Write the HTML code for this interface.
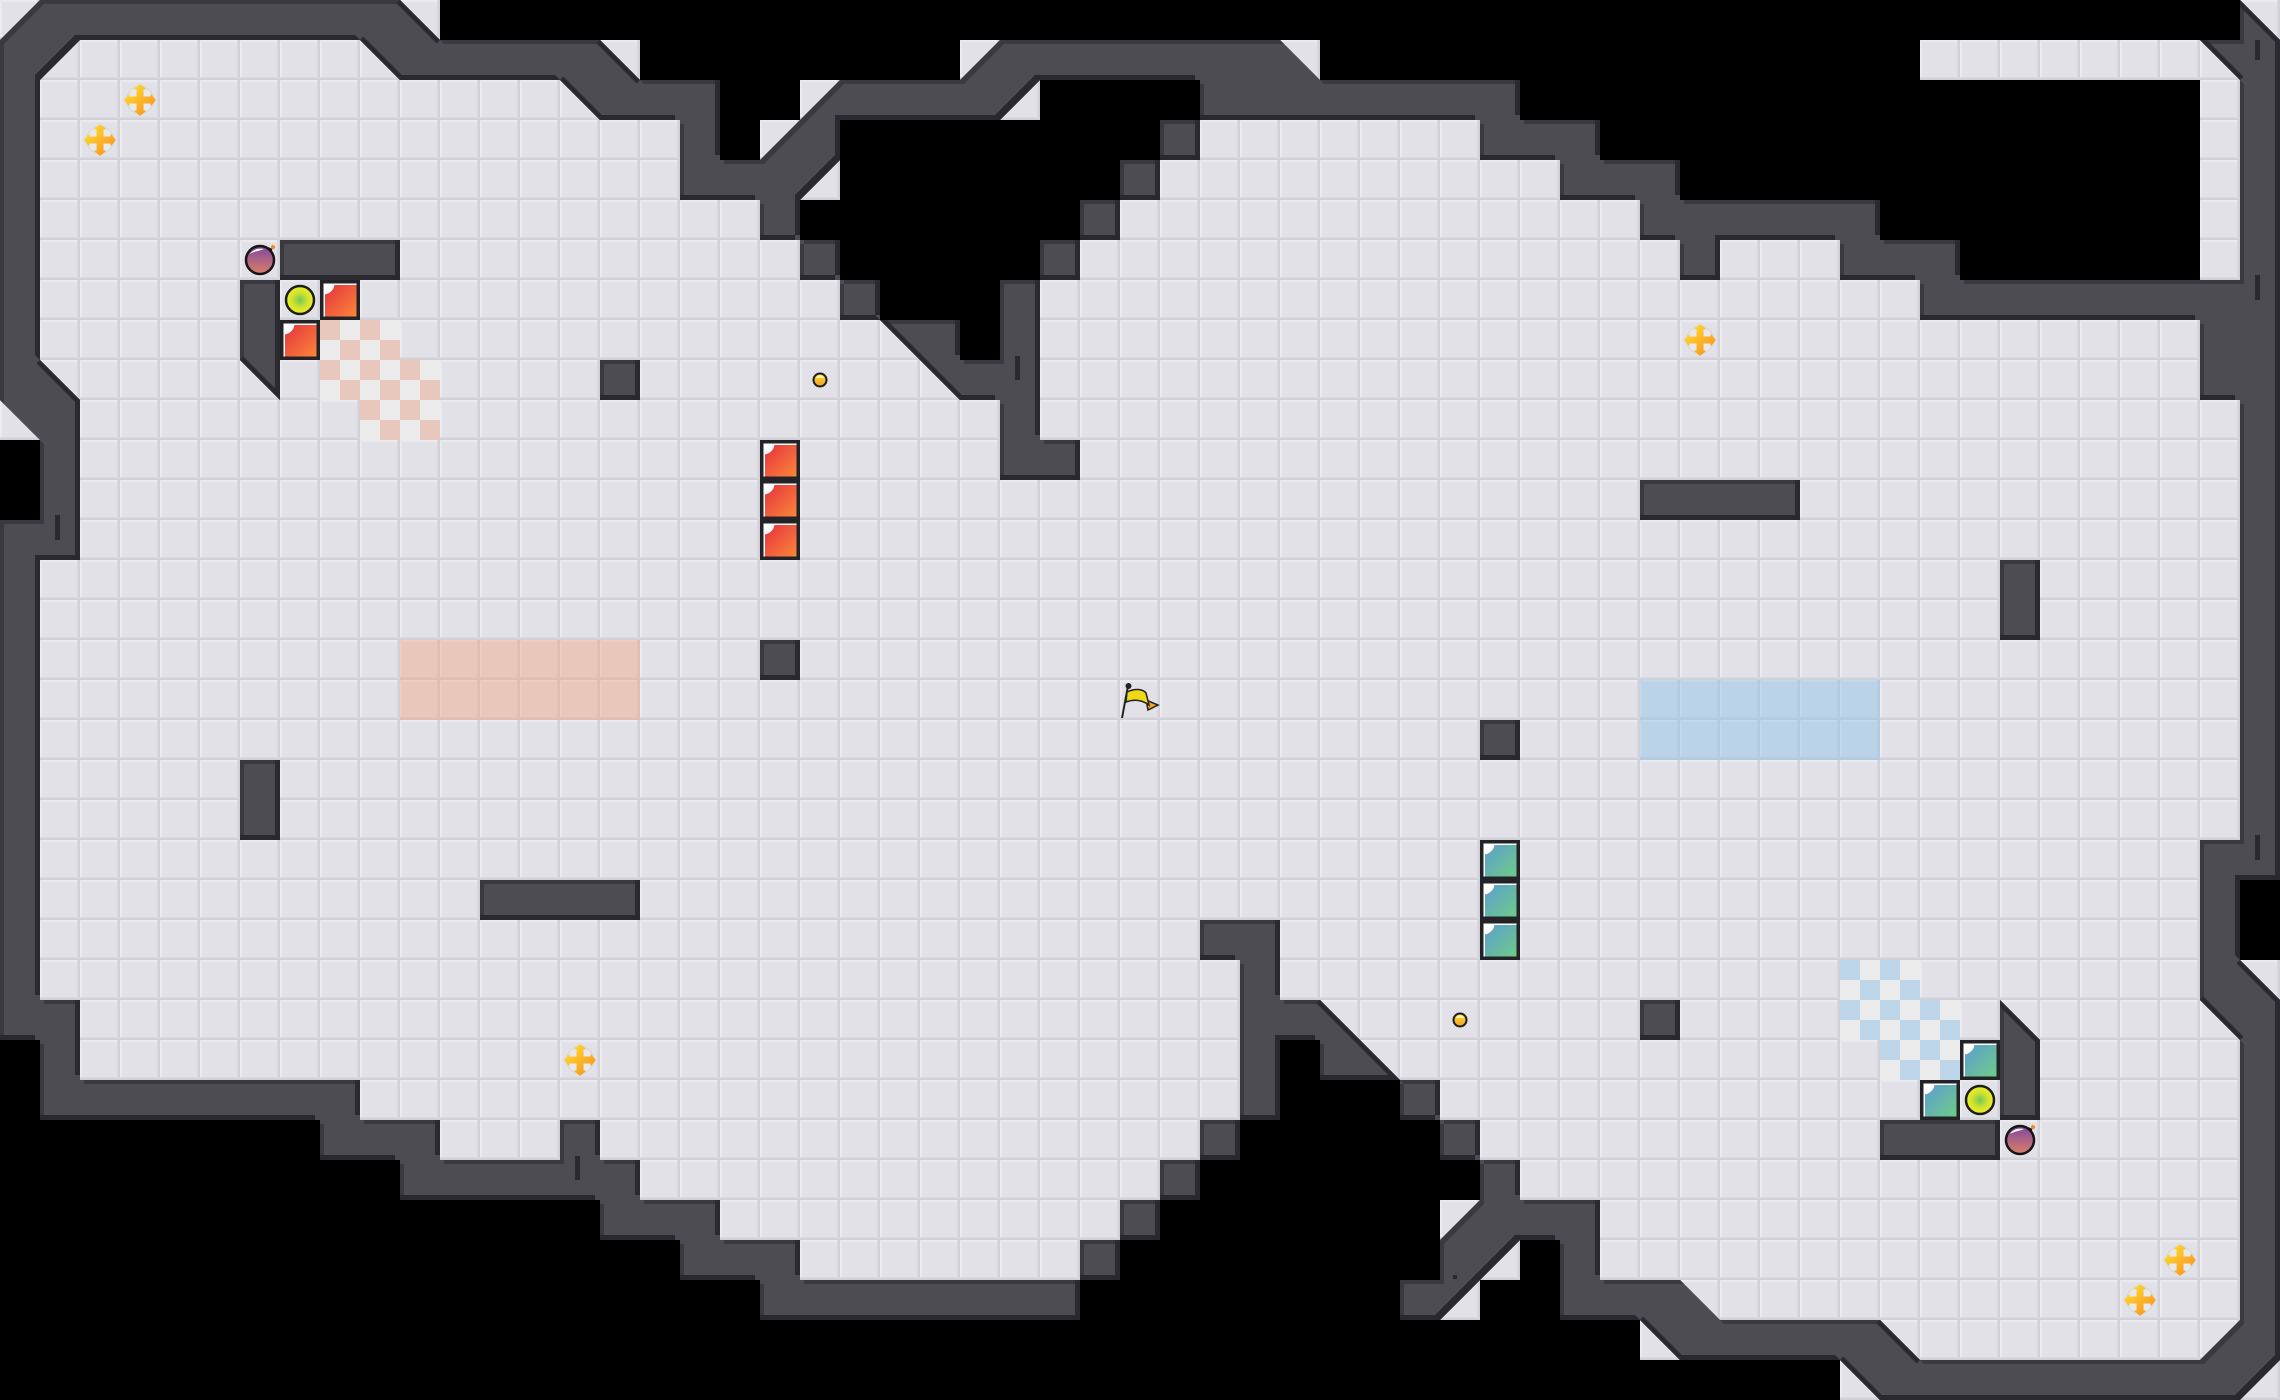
<!DOCTYPE html>
<html>
<head>
<meta charset="utf-8">
<title>Tile map</title>
<style>
html,body{margin:0;padding:0;background:#000;width:2280px;height:1400px;overflow:hidden}
svg{display:block}
</style>
</head>
<body>
<svg xmlns="http://www.w3.org/2000/svg" width="2280" height="1400" viewBox="0 0 2280 1400">
<defs>
<pattern id="tile" width="40" height="40" patternUnits="userSpaceOnUse">
<rect width="40" height="40" fill="#e1e1e7"/>
<rect x="0" y="0" width="40" height="2" fill="#ebebef"/>
<rect x="0" y="0" width="2" height="40" fill="#ebebef"/>
<rect x="37" y="0" width="3" height="40" fill="#d8d8de"/>
<rect x="38.500" y="0" width="1.500" height="40" fill="#d0d0d7"/>
<rect x="0" y="37" width="40" height="3" fill="#d8d8de"/>
<rect x="0" y="38.500" width="40" height="1.500" fill="#cfcfd6"/>
</pattern>
<pattern id="chkR" width="40" height="40" patternUnits="userSpaceOnUse">
<rect width="40" height="40" fill="#ecebeb"/>
<rect width="20" height="20" fill="#e8c8bc"/>
<rect x="20" y="20" width="20" height="20" fill="#e8c8bc"/>
</pattern>
<pattern id="chkB" width="40" height="40" patternUnits="userSpaceOnUse">
<rect width="40" height="40" fill="#ebebec"/>
<rect width="20" height="20" fill="#bdd6e9"/>
<rect x="20" y="20" width="20" height="20" fill="#bdd6e9"/>
</pattern>
<path id="W" transform="scale(40)" d="M19 33H27V32H20V31H18V30H16V29H15V28H14V29H11V28H9V27H2V25H1V14H2V10L1 9V2L2 1H9L10 2H14L15 3H17V5H19V6H20V5L21 4V3H25L26 2H30V3H37V4H39V5H41V6H42V7H43V6H46V7H48V8H55V10H56V21H55V25L56 26V33L55 34H48L47 33H43L42 32H40V30H38V29H37V30L36 31V32H35V33H36L38 31H39V33H41L42 34H46L47 35H56L57 34V25L56 24V22H57V1L56 0V1H55L56 2V7H49V6H47V5H42V4H40V3H38V2H33L32 1H25L24 2H21L19 4H18V2H16L15 1H11L10 0H1L0 1V10L1 11V13H0V26H1V28H8V29H10V30H15V31H17V32H19Z
M7 6H10V7H7Z M6 7H7V10L6 9Z M15 9H16V10H15Z M19 16H20V17H19Z M6 19H7V21H6Z M12 22H16V23H12Z
M20 6H21V7H20Z M21 7H22V8H21Z M22 8H24V9H25V7H26V11H27V12H25V10H24Z
M26 6H27V7H26Z M27 5H28V6H27Z M28 4H29V5H28Z M29 3H30V4H29Z
M41 12H45V13H41Z M50 14H51V16H50Z M37 18H38V19H37Z M41 25H42V26H41Z
M47 28H50V29H47Z M50 25L51 26V28H50Z
M30 23H32V25H33L35 27H33V26H32V28H31V24H30Z
M30 28H31V29H30Z M29 29H30V30H29Z M28 30H29V31H28Z M27 31H28V32H27Z
M35 27H36V28H35Z M36 28H37V29H36Z"/>
<clipPath id="wc"><use href="#W"/></clipPath>
<filter id="edge" filterUnits="userSpaceOnUse" x="-10" y="-10" width="2300" height="1420" color-interpolation-filters="sRGB">
<feOffset in="SourceAlpha" dx="-5" dy="-5" result="a"/>
<feComposite in="SourceAlpha" in2="a" operator="out" result="ra"/>
<feFlood flood-color="#2a2930"/>
<feComposite in2="ra" operator="in" result="dark"/>
<feOffset in="SourceAlpha" dx="4" dy="4" result="b"/>
<feComposite in="SourceAlpha" in2="b" operator="out" result="rb"/>
<feFlood flood-color="#3a393f"/>
<feComposite in2="rb" operator="in" result="light"/>
<feMerge><feMergeNode in="SourceGraphic"/><feMergeNode in="light"/><feMergeNode in="dark"/></feMerge>
</filter>
<linearGradient id="red" x1="0" y1="0" x2="1" y2="1"><stop offset="0" stop-color="#e62e3e"/><stop offset="1" stop-color="#f9863a"/></linearGradient>
<linearGradient id="teal" x1="0" y1="0" x2="1" y2="1"><stop offset="0" stop-color="#5a9cd2"/><stop offset="1" stop-color="#6ecb88"/></linearGradient>
<radialGradient id="green"><stop offset="0" stop-color="#74c658"/><stop offset=".55" stop-color="#cfe230"/><stop offset="1" stop-color="#eef01c"/></radialGradient>
<linearGradient id="bomb" x1="0" y1="0" x2="0" y2="1"><stop offset="0" stop-color="#80489e"/><stop offset="1" stop-color="#dc7f68"/></linearGradient>
<linearGradient id="coin" x1="0" y1="0" x2="0" y2="1"><stop offset="0" stop-color="#ffe04a"/><stop offset="1" stop-color="#f0a010"/></linearGradient>
<linearGradient id="star" gradientUnits="userSpaceOnUse" x1="-14" y1="-14" x2="14" y2="14"><stop offset="0" stop-color="#ffe030"/><stop offset="1" stop-color="#f89020"/></linearGradient>
<g id="rb"><rect x="1.750" y="1.750" width="36.500" height="36.500" fill="#e9e9ee" stroke="#232226" stroke-width="3.500"/><rect x="3.500" y="3.500" width="33" height="33" fill="url(#red)"/><path d="M3.500 3.500H14.500A11 11 0 0 1 3.500 14.500Z" fill="#fff"/><rect x="3.500" y="3.500" width="33" height="1.500" fill="#fff"/><rect x="3.500" y="3.500" width="1.500" height="33" fill="#fff"/></g>
<g id="tb"><rect x="1.750" y="1.750" width="36.500" height="36.500" fill="#e9e9ee" stroke="#232226" stroke-width="3.500"/><rect x="3.500" y="3.500" width="33" height="33" fill="url(#teal)"/><path d="M3.500 3.500H14.500A11 11 0 0 1 3.500 14.500Z" fill="#fff"/><rect x="3.500" y="3.500" width="33" height="1.500" fill="#fff"/><rect x="3.500" y="3.500" width="1.500" height="33" fill="#fff"/></g>
<g id="ball"><circle r="14" fill="url(#green)" stroke="#1c1c1c" stroke-width="2.500"/></g>
<g id="bm"><circle r="14" fill="url(#bomb)" stroke="#151515" stroke-width="2.500"/><path d="M-10 -6C-7 -11 -1 -12 4 -11C0 -9 -5 -9 -10 -6Z" fill="#fff"/><path d="M7 -12L12 -10" stroke="#151515" stroke-width="2.500"/><circle cx="13" cy="-13" r="2" fill="#f08a24"/></g>
<g id="coinG"><circle r="6.500" fill="url(#coin)" stroke="#1c1c1c" stroke-width="2"/><path d="M-4 -2A4.500 4.500 0 0 1 4 -2Z" fill="#fff6c0"/></g>
<g id="st"><circle r="13.500" fill="#e9e9ec" stroke="#d4d4da" stroke-width="1"/><path d="M-3.500 -10.500H-6.500L0 -16L6.500 -10.500H3.500V-3.500H10.500V-6.500L16 0L10.500 6.500V3.500H3.500V10.500H6.500L0 16L-6.500 10.500H-3.500V3.500H-10.500V6.500L-16 0L-10.500 -6.500V-3.500H-3.500Z" fill="url(#star)"/></g>
</defs>

<!-- floor -->
<rect width="2280" height="1400" fill="url(#tile)"/>

<!-- tinted zones -->
<rect x="400" y="640" width="240" height="80" fill="rgba(244,160,120,.4)"/>
<rect x="1640" y="680" width="240" height="80" fill="rgba(140,195,235,.45)"/>

<!-- checker zones -->
<path d="M320 320H400V360H440V440H360V400H320Z" fill="url(#chkR)"/>
<path d="M1840 960H1920V1000H1960V1080H1880V1040H1840Z" fill="url(#chkB)"/>

<!-- void -->
<g transform="scale(40)" fill="#000">
<path d="M11 0H56V1H48V2H55V7H49V6H47V5H42V4H40V3H38V2H33V1H24V2H20V3H19V4H18V2H16V1H11Z"/>
<path d="M21 3H26V2H30V3H29V4H28V5H27V6H26V7H25V9H24V8H22V7H21V6H20V5H21Z"/>
<path d="M0 11H1V13H0Z"/>
<path d="M56 22H57V24H56Z"/>
<path d="M0 26H1V28H8V29H10V30H15V31H17V32H19V33H27V32H28V31H29V30H30V29H31V28H32V26H33V27H35V28H36V29H37V30H36V33H37V32H38V31H39V33H41V34H46V35H0Z"/>
</g>

<!-- walls -->
<g filter="url(#edge)"><use href="#W" fill="#4d4c52"/></g>
<g clip-path="url(#wc)">
<path transform="scale(40)" fill="none" stroke="#2a2930" stroke-width=".24" d="M9 1L10 2 M14 2L15 3 M1 9L2 10 M25 3L26 2 M20 5L21 4 M22 8L24 10 M33 25L35 27 M6 9L7 10 M50 25L51 26 M36 33L38 31 M41 33L42 34 M55 1L56 2 M56 0L57 1 M55 25L56 26 M47 33L48 34 M46 34L47 35 M56 24L57 25 M10 0L11 1 M15 1L16 2"/>
</g>

<!-- ticks -->
<g fill="#2a2930">
<rect x="55" y="515" width="5" height="25"/>
<rect x="1015" y="356" width="5" height="24"/>
<rect x="2255" y="40" width="5" height="20"/>
<rect x="2255" y="275" width="5" height="25"/>
<rect x="2255" y="835" width="5" height="25"/>
<rect x="575" y="1156" width="5" height="24"/>
<rect x="1453" y="1275" width="4" height="4"/>
</g>

<!-- red blocks -->
<use href="#rb" x="320" y="280"/>
<use href="#rb" x="280" y="320"/>
<use href="#rb" x="760" y="440"/>
<use href="#rb" x="760" y="480"/>
<use href="#rb" x="760" y="520"/>

<!-- teal blocks -->
<use href="#tb" x="1480" y="840"/>
<use href="#tb" x="1480" y="880"/>
<use href="#tb" x="1480" y="920"/>
<use href="#tb" x="1960" y="1040"/>
<use href="#tb" x="1920" y="1080"/>

<!-- balls -->
<use href="#ball" x="300" y="300"/>
<use href="#ball" x="1980" y="1100"/>

<!-- bombs -->
<use href="#bm" x="260" y="260"/>
<use href="#bm" x="2020" y="1140"/>

<!-- coins -->
<use href="#coinG" x="820" y="380"/>
<use href="#coinG" x="1460" y="1020"/>

<!-- stars -->
<use href="#st" x="140" y="100"/>
<use href="#st" x="100" y="140"/>
<use href="#st" x="1700" y="340"/>
<use href="#st" x="580" y="1060"/>
<use href="#st" x="2180" y="1260"/>
<use href="#st" x="2140" y="1300"/>

<!-- flag -->
<g>
<path d="M1128 686L1122 718" stroke="#222" stroke-width="2" fill="none"/>
<circle cx="1128.500" cy="686" r="3" fill="#222"/>
<path d="M1146 700L1158 705L1148 710Z" fill="#f5a623" stroke="#222" stroke-width="1.500"/>
<path d="M1127 692C1135 688 1143 689 1146 693L1149 705C1142 700 1134 699 1126 702Z" fill="#efd916" stroke="#222" stroke-width="1.500"/>
</g>
</svg>
</body>
</html>
